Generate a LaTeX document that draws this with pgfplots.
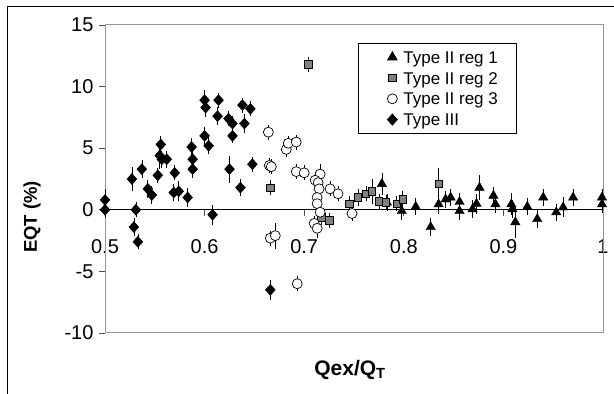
\documentclass[border=0pt]{standalone}
\usepackage{fontspec}
\setmainfont{Liberation Sans}
\usepackage{pgfplots}
\pgfplotsset{compat=1.18}
\usepackage{pgfplotstable}

\pgfplotstableread{
x y e
0.778 2.1 0.5
0.783 0.6 0.3
0.798 -0.1 0.3
0.812 0.25 0.3
0.827 -1.4 0.3
0.835 0.45 0.4
0.842 0.85 0.3
0.847 1.0 0.3
0.856 0.65 0.3
0.856 -0.1 0.3
0.869 0.05 0.3
0.873 0.5 0.4
0.876 1.8 0.6
0.890 1.15 0.3
0.892 0.45 0.3
0.908 0.45 0.5
0.909 0.05 0.3
0.912 -1.0 0.85
0.924 0.25 0.3
0.934 -0.75 0.3
0.940 1.0 0.3
0.953 -0.2 0.3
0.960 0.2 0.4
0.970 1.0 0.3
0.999 1.0 0.3
0.999 0.45 0.3
}\regone

\pgfplotstableread{
x y e
0.704 11.8 0.2
0.666 1.8 0.2
0.717 -0.6 0.2
0.725 -0.85 0.2
0.745 0.5 0.2
0.754 1.0 0.3
0.762 1.3 0.2
0.768 1.5 0.6
0.775 0.7 0.2
0.782 0.6 0.2
0.793 0.5 0.2
0.799 0.85 0.3
0.835 2.1 0.85
}\regtwo

\pgfplotstableread{
x y e
0.664 6.3 0.2
0.682 4.9 0.2
0.684 5.4 0.2
0.692 5.5 0.2
0.665 3.6 0.2
0.667 3.5 0.2
0.692 3.1 0.2
0.700 3.0 0.2
0.716 2.9 0.4
0.711 2.4 0.3
0.714 2.2 0.3
0.715 1.7 0.3
0.726 1.7 0.2
0.734 1.3 0.2
0.713 1.0 0.2
0.713 0.5 0.2
0.716 -0.2 0.2
0.710 -1.1 0.2
0.713 -1.5 0.4
0.748 -0.3 0.2
0.666 -2.3 0.2
0.671 -2.1 0.65
0.693 -6.0 0.2
}\regthree

\pgfplotstableread{
x y e
0.500 0.8 0.5
0.500 0.0 0.3
0.531 0.0 0.2
0.529 -1.4 0.3
0.533 -2.6 0.2
0.527 2.5 0.6
0.537 3.3 0.3
0.543 1.7 0.3
0.547 1.2 0.3
0.553 2.8 0.2
0.556 5.3 0.3
0.555 4.4 0.7
0.557 4.1 0.3
0.562 4.1 0.3
0.570 3.0 0.2
0.569 1.4 0.3
0.574 1.5 0.4
0.583 1.0 0.4
0.587 5.1 0.3
0.588 4.1 0.6
0.588 3.3 0.3
0.600 8.9 0.4
0.601 8.3 0.4
0.614 8.9 0.2
0.613 7.6 0.3
0.624 7.4 0.2
0.628 7.0 0.2
0.638 8.5 0.2
0.646 8.2 0.2
0.640 7.0 0.4
0.628 6.0 0.2
0.600 6.0 0.3
0.604 5.2 0.3
0.625 3.3 0.7
0.648 3.7 0.2
0.636 1.8 0.3
0.608 -0.4 0.4
0.666 -6.5 0.4
}\typethree

\definecolor{sqgray}{RGB}{128,128,128}
\definecolor{boxgray}{RGB}{150,150,150}

\begin{document}
\begin{tikzpicture}
\useasboundingbox (0,0) rectangle (614bp,394bp);
\draw[black, line width=1bp] (7bp,0) -- (7bp,387bp) -- (614bp,387bp);
\begin{axis}[
  at={(105bp,61bp)}, anchor=south west,
  scale only axis, width=498bp, height=308bp,
  xmin=0.5, xmax=1, ymin=-10, ymax=15,
  axis x line*=middle, axis y line*=left,
  axis line style={-, black, line width=0.8bp},
  hide obscured x ticks=false, hide obscured y ticks=false,
  xtick={0.5,0.6,0.7,0.8,0.9,1}, xticklabels={0.5,0.6,0.7,0.8,0.9,1},
  ytick={-10,-5,0,5,10,15},
  tick align=outside, major tick length=6bp,
  tick style={black!70, line width=0.8bp},
  x tick label style={yshift=-20bp},
  y tick label style={xshift=-2bp},
  ticklabel style={font=\fontsize{20bp}{24bp}\selectfont},
  /pgf/number format/assume math mode=true,
  xlabel={\textbf{Qex/Q\textsubscript{T}}},
  xlabel style={at={(rel axis cs:0.492,-0.12)}, anchor=center, font=\fontsize{21bp}{25bp}\selectfont},
  ylabel={\textbf{EQT (\%)}},
  ylabel style={at={(rel axis cs:-0.1466,0.377)}, anchor=center, font=\fontsize{18.5bp}{22bp}\selectfont},
  clip=false,
  legend image code/.code={\path[draw=none, fill=none] (-18bp,0) -- (8bp,0); \draw[#1] plot[only marks] coordinates {(0bp,0bp)};},
  every axis legend/.style={
    cells={anchor=west, inner xsep=3bp, inner ysep=0bp, text height=14.2bp, text depth=1.8bp},
    shape=rectangle, fill=white, draw=black, line width=0.8bp,
    inner xsep=16bp, inner ysep=5.8bp, row sep=4.8bp,
    at={(rel axis cs:0.508,0.9416)}, anchor=north west,
    font=\fontsize{17bp}{20bp}\selectfont},
  error bars/y dir=both, error bars/y explicit,
  error bars/error bar style={black, line width=0.7bp},
  error bars/error mark options={black, mark size=5bp, line width=0.7bp},
]
\draw[boxgray, line width=1bp] (rel axis cs:0,0) rectangle (rel axis cs:1,1);
\addplot[only marks, mark=triangle*, mark size=5.4bp, mark options={fill=black, draw=black}]
  table[x=x, y=y, y error=e] {\regone};
\addlegendentry{Type II reg 1}
\addplot[only marks, mark=square*, mark size=3.8bp, mark options={fill=sqgray, draw=black, line width=0.6bp}]
  table[x=x, y=y, y error=e] {\regtwo};
\addlegendentry{Type II reg 2}
\addplot[only marks, mark=*, mark size=5bp, mark options={fill=white, draw=black, line width=0.7bp}]
  table[x=x, y=y, y error=e] {\regthree};
\addlegendentry{Type II reg 3}
\addplot[only marks, mark=diamond*, mark size=5.5bp, mark options={fill=black, draw=black, xscale=1.2}]
  table[x=x, y=y, y error=e] {\typethree};
\addlegendentry{Type III}
\end{axis}
\end{tikzpicture}
\end{document}
